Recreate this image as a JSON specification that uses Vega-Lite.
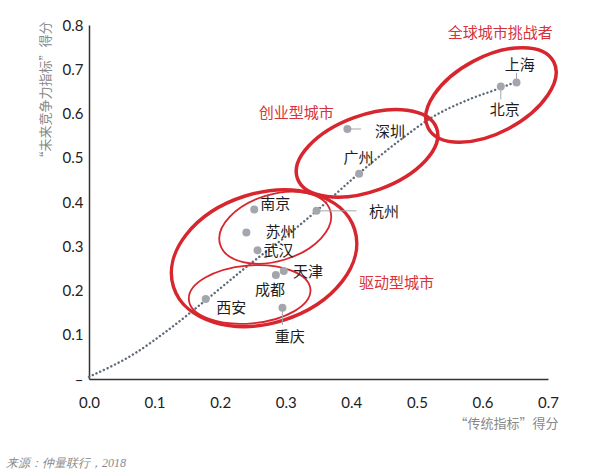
{
  "$schema": "https://vega.github.io/schema/vega-lite/v6.json",
  "width": 459,
  "height": 354,
  "autosize": "none",
  "padding": {"left": 89, "top": 25, "right": 52, "bottom": 97},
  "background": "white",
  "config": {"view": {"stroke": null}},
  "title": {
    "text": "来源：仲量联行，2018",
    "orient": "bottom",
    "anchor": "start",
    "frame": "group",
    "dx": -83,
    "offset": 28,
    "font": "Liberation Serif",
    "fontStyle": "italic",
    "fontWeight": "normal",
    "fontSize": 12,
    "color": "#888888"
  },
  "datasets": {
    "cities": [
      {"city": "上海", "x": 0.652, "y": 0.670, "lx": 0.657, "ly": 0.710},
      {"city": "北京", "x": 0.628, "y": 0.661, "lx": 0.634, "ly": 0.608},
      {"city": "深圳", "x": 0.394, "y": 0.565, "lx": 0.459, "ly": 0.559},
      {"city": "广州", "x": 0.412, "y": 0.464, "lx": 0.411, "ly": 0.499},
      {"city": "杭州", "x": 0.347, "y": 0.380, "lx": 0.450, "ly": 0.377},
      {"city": "南京", "x": 0.252, "y": 0.383, "lx": 0.284, "ly": 0.395},
      {"city": "苏州", "x": 0.240, "y": 0.331, "lx": 0.292, "ly": 0.333},
      {"city": "武汉", "x": 0.257, "y": 0.291, "lx": 0.289, "ly": 0.290},
      {"city": "天津", "x": 0.297, "y": 0.244, "lx": 0.334, "ly": 0.241},
      {"city": "成都", "x": 0.285, "y": 0.235, "lx": 0.276, "ly": 0.201},
      {"city": "西安", "x": 0.178, "y": 0.181, "lx": 0.217, "ly": 0.160},
      {"city": "重庆", "x": 0.295, "y": 0.161, "lx": 0.306, "ly": 0.096}
    ],
    "trend": [
      {"x": 0.0, "y": 0.005},
      {"x": 0.07, "y": 0.058},
      {"x": 0.12, "y": 0.11},
      {"x": 0.178, "y": 0.178},
      {"x": 0.244, "y": 0.258},
      {"x": 0.30, "y": 0.322},
      {"x": 0.347, "y": 0.38},
      {"x": 0.412, "y": 0.465},
      {"x": 0.47, "y": 0.535},
      {"x": 0.525, "y": 0.593},
      {"x": 0.58, "y": 0.632},
      {"x": 0.628, "y": 0.658},
      {"x": 0.652, "y": 0.672}
    ],
    "leaders": [
      {"x": 0.652, "y": 0.670, "x2": 0.652, "y2": 0.692},
      {"x": 0.628, "y": 0.661, "x2": 0.628, "y2": 0.632},
      {"x": 0.394, "y": 0.565, "x2": 0.415, "y2": 0.565},
      {"x": 0.347, "y": 0.380, "x2": 0.408, "y2": 0.380},
      {"x": 0.295, "y": 0.161, "x2": 0.295, "y2": 0.122}
    ],
    "groups": [
      {"label": "全球城市挑战者", "x": 0.627, "y": 0.783},
      {"label": "创业型城市", "x": 0.316, "y": 0.601},
      {"label": "驱动型城市", "x": 0.469, "y": 0.217}
    ],
    "e1": [{"x": 0.613, "y": 0.642}],
    "e2": [{"x": 0.424, "y": 0.510}],
    "e3": [{"x": 0.267, "y": 0.273}],
    "e4": [{"x": 0.284, "y": 0.342}],
    "e5": [{"x": 0.245, "y": 0.191}]
  },
  "encoding": {
    "x": {
      "field": "x", "type": "quantitative",
      "scale": {"domain": [0, 0.7], "nice": false, "zero": false},
      "axis": {
        "title": "“传统指标”得分",
        "values": [0, 0.1, 0.2, 0.3, 0.4, 0.5, 0.6, 0.7],
        "format": ".1f",
        "grid": false,
        "ticks": false,
        "domainColor": "#333333",
        "domainWidth": 1.5,
        "labelFont": "Lato",
        "labelFontSize": 15,
        "labelColor": "#222222",
        "labelPadding": 16,
        "labelFlush": false,
        "titleFont": "Noto Sans CJK SC",
        "titleFontWeight": "normal",
        "titleFontSize": 13,
        "titleColor": "#888888",
        "titleAnchor": "end",
        "titleAlign": "right",
        "titleBaseline": "middle",
        "titleX": 469,
        "titleY": 44
      }
    },
    "y": {
      "field": "y", "type": "quantitative",
      "scale": {"domain": [0, 0.8], "nice": false, "zero": false},
      "axis": {
        "title": "“未来竞争力指标”得分",
        "values": [0, 0.1, 0.2, 0.3, 0.4, 0.5, 0.6, 0.7, 0.8],
        "labelExpr": "datum.value == 0 ? '–' : format(datum.value, '.1f')",
        "grid": false,
        "ticks": false,
        "domainColor": "#333333",
        "domainWidth": 1.5,
        "labelFont": "Lato",
        "labelFontSize": 15,
        "labelColor": "#222222",
        "labelPadding": 6,
        "labelFlush": false,
        "titleFont": "Noto Sans CJK SC",
        "titleFontWeight": "normal",
        "titleFontSize": 13,
        "titleColor": "#888888",
        "titleAngle": -90,
        "titleAlign": "right",
        "titleBaseline": "middle",
        "titleX": -44,
        "titleY": -4
      }
    }
  },
  "layer": [
    {
      "data": {"name": "trend"},
      "mark": {"type": "line", "color": "#5e6a78", "strokeWidth": 2.4, "strokeDash": [0.1, 4], "strokeCap": "round", "interpolate": "monotone"},
      "encoding": {}
    },
    {
      "data": {"name": "e1"},
      "mark": {"type": "point", "filled": false, "opacity": 1, "color": "#d8262e", "strokeWidth": 3.5, "size": 20164, "angle": -28,
        "shape": "M1,0 C1,0.2955 0.5523,0.535 0,0.535 C-0.5523,0.535 -1,0.2955 -1,0 C-1,-0.2955 -0.5523,-0.535 0,-0.535 C0.5523,-0.535 1,-0.2955 1,0 Z"},
      "encoding": {}
    },
    {
      "data": {"name": "e2"},
      "mark": {"type": "point", "filled": false, "opacity": 1, "color": "#d8262e", "strokeWidth": 3.5, "size": 21904, "angle": -20,
        "shape": "M1,0 C1,0.2839 0.5523,0.514 0,0.514 C-0.5523,0.514 -1,0.2839 -1,0 C-1,-0.2839 -0.5523,-0.514 0,-0.514 C0.5523,-0.514 1,-0.2839 1,0 Z"},
      "encoding": {}
    },
    {
      "data": {"name": "e3"},
      "mark": {"type": "point", "filled": false, "opacity": 1, "color": "#d8262e", "strokeWidth": 3.5, "size": 36100, "angle": -17.6,
        "shape": "M1,0 C1,0.3778 0.5523,0.684 0,0.684 C-0.5523,0.684 -1,0.3778 -1,0 C-1,-0.3778 -0.5523,-0.684 0,-0.684 C0.5523,-0.684 1,-0.3778 1,0 Z"},
      "encoding": {}
    },
    {
      "data": {"name": "e4"},
      "mark": {"type": "point", "filled": false, "opacity": 1, "color": "#d8262e", "strokeWidth": 1.8, "size": 13271, "angle": -17,
        "shape": "M1,0 C1,0.3192 0.5523,0.578 0,0.578 C-0.5523,0.578 -1,0.3192 -1,0 C-1,-0.3192 -0.5523,-0.578 0,-0.578 C0.5523,-0.578 1,-0.3192 1,0 Z"},
      "encoding": {}
    },
    {
      "data": {"name": "e5"},
      "mark": {"type": "point", "filled": false, "opacity": 1, "color": "#d8262e", "strokeWidth": 1.8, "size": 14884, "angle": -5,
        "shape": "M1,0 C1,0.2623 0.5523,0.475 0,0.475 C-0.5523,0.475 -1,0.2623 -1,0 C-1,-0.2623 -0.5523,-0.475 0,-0.475 C0.5523,-0.475 1,-0.2623 1,0 Z"},
      "encoding": {}
    },
    {
      "data": {"name": "leaders"},
      "mark": {"type": "rule", "color": "#a3a7ad", "strokeWidth": 1},
      "encoding": {
        "x2": {"field": "x2"},
        "y2": {"field": "y2"}
      }
    },
    {
      "data": {"name": "cities"},
      "mark": {"type": "circle", "color": "#a3a7ad", "opacity": 1, "size": 64},
      "encoding": {}
    },
    {
      "data": {"name": "cities"},
      "mark": {"type": "text", "font": "Noto Sans CJK SC", "fontSize": 15, "color": "#1e1e1e", "align": "center", "baseline": "middle"},
      "encoding": {
        "x": {"field": "lx", "type": "quantitative"},
        "y": {"field": "ly", "type": "quantitative"},
        "text": {"field": "city"}
      }
    },
    {
      "data": {"name": "groups"},
      "mark": {"type": "text", "font": "Noto Sans CJK SC", "fontSize": 15, "color": "#d8333a", "align": "center", "baseline": "middle"},
      "encoding": {
        "text": {"field": "label"}
      }
    }
  ]
}
